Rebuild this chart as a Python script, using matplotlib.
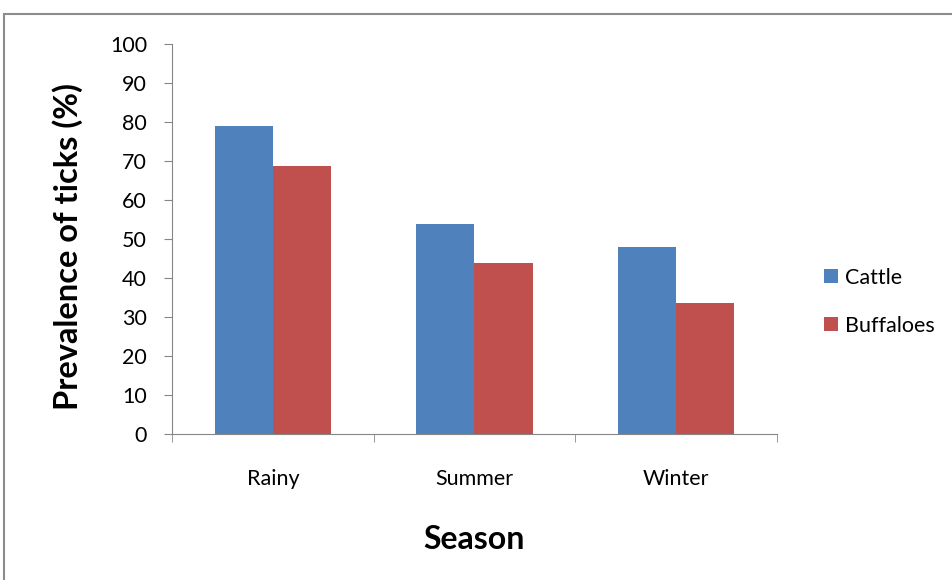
import numpy as np
import matplotlib
matplotlib.use("Agg")
from matplotlib import pyplot as plt
from matplotlib.patches import Rectangle

seasons = ["Rainy", "Summer", "Winter"]
cattle = [79, 53.8, 48]
buffaloes = [68.7, 43.8, 33.6]
series_labels = ["Cattle", "Buffaloes"]
COLORS = ["#4f81bd", "#c0504d"]

plt.rcParams["font.family"] = ["Lato", "DejaVu Sans"]

fig = plt.figure(figsize=(9.53, 5.8), dpi=100)
ax = fig.add_axes([172 / 953, 1 - 434 / 580, 605 / 953, 390 / 580])

# outer chart frame
fig.patches.append(Rectangle((4 / 953, -0.1), 1.1, 1 - 14 / 580 + 0.1,
                             transform=fig.transFigure, fill=False,
                             edgecolor="#8c8c8c", linewidth=1.5))

x = np.arange(len(seasons))
width = 0.288
ax.bar(x - width / 2, cattle, width, color=COLORS[0], label=series_labels[0])
ax.bar(x + width / 2, buffaloes, width, color=COLORS[1], label=series_labels[1])

ax.set_xlim(-0.5, 2.5)
ax.set_ylim(0, 100)
ax.set_yticks(range(0, 101, 10))
ax.set_xticks(x)
ax.set_xticklabels(seasons)
ax.set_xticks([-0.5, 0.5, 1.5, 2.5], minor=True)
ax.tick_params(axis="x", which="major", length=0, pad=25, labelsize=15.5)
ax.tick_params(axis="x", which="minor", length=6, color="#868686")
ax.tick_params(axis="y", length=6, color="#868686", labelsize=15.5, pad=12)

for side in ["top", "right"]:
    ax.spines[side].set_visible(False)
for side in ["left", "bottom"]:
    ax.spines[side].set_color("#868686")

ax.set_ylabel("Prevalence of ticks (%)", fontsize=23.5, fontweight="bold", labelpad=19)
ax.yaxis.label.set_y(0.482)
ax.set_xlabel("Season", fontsize=23, fontweight="bold", labelpad=26)

ax.legend(loc="center left", bbox_to_anchor=(805 / 953, 1 - 302 / 580),
          bbox_transform=fig.transFigure, frameon=False, fontsize=15.5,
          handlelength=0.62, handleheight=0.62, labelspacing=1.3, handletextpad=0.35)

fig.savefig("out.png", dpi=100)
